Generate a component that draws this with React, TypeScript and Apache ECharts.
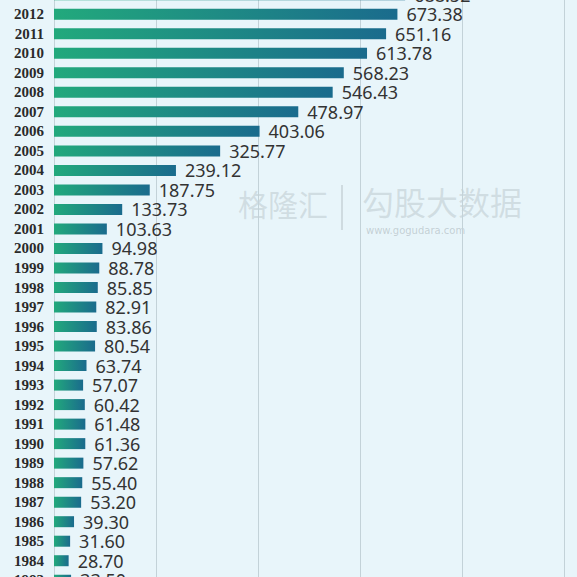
import React, { useEffect, useRef } from "react";
import * as echarts from "echarts";

const years = [
  "1983", "1984", "1985", "1986", "1987", "1988", "1989", "1990", "1991", "1992",
  "1993", "1994", "1995", "1996", "1997", "1998", "1999", "2000", "2001", "2002",
  "2003", "2004", "2005", "2006", "2007", "2008", "2009", "2010", "2011", "2012", "2013",
];
const values = [
  33.5, 28.7, 31.6, 39.3, 53.2, 55.4, 57.62, 61.36, 61.48, 60.42,
  57.07, 63.74, 80.54, 83.86, 82.91, 85.85, 88.78, 94.98, 103.63, 133.73,
  187.75, 239.12, 325.77, 403.06, 478.97, 546.43, 568.23, 613.78, 651.16, 673.38, 688.52,
];
const xTicks = { min: 0, max: 1000, interval: 200 };

export default function App() {
  const ref = useRef<HTMLDivElement>(null);
  useEffect(() => {
    if (!ref.current) return;
    const chart = echarts.init(ref.current, undefined, { renderer: "svg" });
    chart.setOption({
      animation: false,
      backgroundColor: "#e8f5fa",
      grid: { left: 54, right: 13, top: 0, bottom: 0, containLabel: false },
      graphic: [
        {
          type: "text",
          left: 238,
          top: 203,
          style: { text: "格隆汇", fontSize: 30, fill: "rgba(150,160,165,0.28)", fontFamily: "Noto Sans CJK SC" },
        },
        {
          type: "text",
          left: 362,
          top: 200,
          style: { text: "勾股大数据", fontSize: 32, fill: "rgba(150,160,165,0.28)", fontFamily: "Noto Sans CJK SC" },
        },
        {
          type: "text",
          left: 366,
          top: 240,
          style: { text: "www.gogudara.com", fontSize: 10, fill: "rgba(150,160,165,0.45)", fontFamily: "DejaVu Sans" },
        },
        {
          type: "line",
          shape: { x1: 342, y1: 200, x2: 342, y2: 245 },
          style: { stroke: "rgba(150,160,165,0.3)", lineWidth: 2 },
        },
      ],
      xAxis: {
        type: "value",
        min: xTicks.min,
        max: xTicks.max,
        interval: xTicks.interval,
        axisLabel: { show: false },
        axisLine: { show: false },
        axisTick: { show: false },
        splitLine: { show: true, lineStyle: { color: "#c3d2d8", width: 1 } },
      },
      yAxis: {
        type: "category",
        data: years,
        axisLine: { show: true, lineStyle: { color: "#c4d2d8" } },
        axisTick: { show: false },
        axisLabel: {
          color: "#2a2a2a",
          fontFamily: "Liberation Serif",
          fontWeight: "bold",
          fontSize: 15,
          lineHeight: 15,
          margin: 10,
        },
      },
      series: [
        {
          type: "bar",
          data: values,
          barWidth: 11,
          itemStyle: {
            color: new echarts.graphic.LinearGradient(0, 0, 1, 0, [
              { offset: 0, color: "#22a97c" },
              { offset: 1, color: "#1a6b8d" },
            ]),
          },
          label: {
            show: true,
            position: "right",
            distance: 9,
            color: "#333333",
            fontFamily: "Noto Sans",
            fontSize: 18,
            lineHeight: 18,
            formatter: (p: any) => p.value.toFixed(2),
          },
        },
      ],
    });
    return () => chart.dispose();
  }, []);
  return (
    <div style={{ position: "fixed", left: 0, top: 0, width: 577, height: 577, overflow: "hidden" }}>
      <div ref={ref} style={{ position: "absolute", left: 0, top: -15.25, width: 577, height: 605 }} />
    </div>
  );
}
